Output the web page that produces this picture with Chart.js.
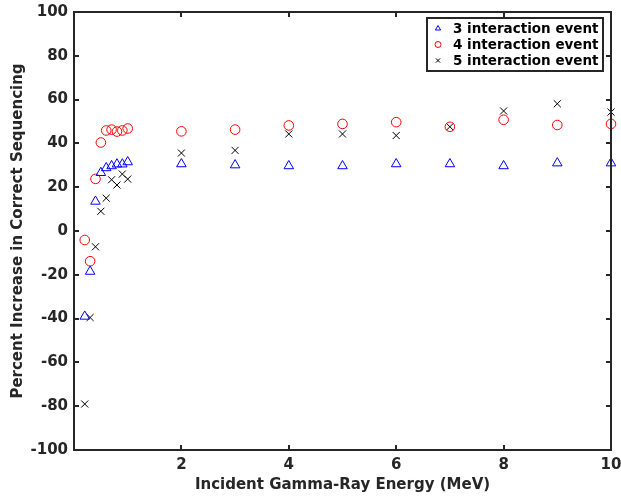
<!DOCTYPE html>
<html>
<head>
<meta charset="utf-8">
<script src="https://cdn.jsdelivr.net/npm/chart.js@4.4.0/dist/chart.umd.min.js"></script>
<style>
html,body{margin:0;padding:0;background:#fff;}
#wrap{width:621px;height:498px;position:relative;}
</style>
</head>
<body>
<div id="wrap"><canvas id="c" width="621" height="498"></canvas></div>
<script>
const energies = [0.2,0.3,0.4,0.5,0.6,0.7,0.8,0.9,1,2,3,4,5,6,7,8,9,10];
const threeEvent = [-39,-18.5,13.5,26.6,28.8,29.7,30.5,30.5,31.5,30.6,30.1,29.7,29.7,30.6,30.6,29.7,31,31];
const fourEvent = [-4.1,-13.8,23.8,40.4,45.9,46.3,45.4,45.9,46.8,45.5,46.3,48.2,48.9,49.7,47.6,50.8,48.4,48.9];
const fiveEvent = [-79,-39.5,-7.2,9,15,23.4,21,26,23.7,35.6,36.8,44.3,44.3,43.6,47.6,54.8,58.1,54.3];
const seriesLabels = ['3 interaction event','4 interaction event','5 interaction event'];
const xTicks = [2,4,6,8,10];
const yTicks = [-100,-80,-60,-40,-20,0,20,40,60,80,100];

const axisColor = '#262626';
const fontFam = '"DejaVu Sans", sans-serif';

function pts(ys){ return energies.map((e,i)=>({x:e,y:ys[i]})); }

const boxPlugin = {
  id:'boxPlugin',
  afterDraw(chart){
    const ctx = chart.ctx, a = chart.chartArea;
    const xs = chart.scales.x, ys = chart.scales.y;
    ctx.save();
    ctx.strokeStyle = axisColor;
    ctx.lineWidth = 2;
    ctx.beginPath();
    ctx.rect(a.left, a.top, a.right-a.left, a.bottom-a.top);
    ctx.stroke();
    const tl = 5;
    ctx.beginPath();
    xTicks.forEach(v=>{
      const p = Math.round(xs.getPixelForValue(v));
      ctx.moveTo(p, a.bottom); ctx.lineTo(p, a.bottom-tl);
      ctx.moveTo(p, a.top); ctx.lineTo(p, a.top+tl);
    });
    yTicks.forEach(v=>{
      const p = Math.round(ys.getPixelForValue(v));
      ctx.moveTo(a.left, p); ctx.lineTo(a.left+tl, p);
      ctx.moveTo(a.right, p); ctx.lineTo(a.right-tl, p);
    });
    ctx.stroke();

    // legend
    const lx = 427, ly = 18, lw = 176, lh = 53;
    ctx.fillStyle = '#fff';
    ctx.fillRect(lx, ly, lw, lh);
    ctx.lineWidth = 2;
    ctx.strokeStyle = axisColor;
    ctx.strokeRect(lx, ly, lw, lh);
    ctx.font = 'bold 13.5px ' + fontFam;
    ctx.textBaseline = 'middle';
    chart.data.datasets.forEach((ds,i)=>{
      const cy = ly + 10.5 + i*16;
      ctx.strokeStyle = ds.borderColor;
      ctx.fillStyle = 'rgba(0,0,0,0)';
      ctx.lineWidth = 1;
      Chart.helpers.drawPoint(ctx, {
        pointStyle: ds.pointStyle, radius: 3, rotation:0,
        borderWidth:1
      }, 438, cy);
      ctx.fillStyle = '#000';
      ctx.fillText(ds.label, 453, cy+1);
    });
    ctx.restore();
  }
};

const baseDs = {showLine:false, backgroundColor:'rgba(0,0,0,0)', borderWidth:1, clip:false};
new Chart(document.getElementById('c'), {
  type:'scatter',
  data:{datasets:[
    Object.assign({}, baseDs, {label:seriesLabels[0], data:pts(threeEvent), pointStyle:'triangle', pointRadius:5.5, borderColor:'#0000ff'}),
    Object.assign({}, baseDs, {label:seriesLabels[1], data:pts(fourEvent), pointStyle:'circle', pointRadius:4.8, borderColor:'#ff0000'}),
    Object.assign({}, baseDs, {label:seriesLabels[2], data:pts(fiveEvent), pointStyle:'crossRot', pointRadius:5, borderColor:'#000000'})
  ]},
  options:{
    responsive:false, animation:false, devicePixelRatio:1,
    layout:{padding:{left:0,top:12,right:10,bottom:0}},
    plugins:{legend:{display:false}, tooltip:{enabled:false}},
    elements:{point:{hoverRadius:0}},
    scales:{
      x:{type:'linear', min:0, max:10,
        afterBuildTicks(s){ s.ticks = xTicks.map(v=>({value:v})); },
        afterFit(s){ s.height = 48; s.paddingLeft = 0; s.paddingRight = 0; },
        grid:{display:false, drawTicks:false}, border:{display:false},
        ticks:{color:axisColor, font:{family:fontFam, size:15, weight:'bold'}, padding:6, maxRotation:0, autoSkip:false},
        title:{display:true, text:'Incident Gamma-Ray Energy (MeV)', color:axisColor, font:{family:fontFam, size:15, weight:'bold'}, padding:{top:0,bottom:4}}
      },
      y:{type:'linear', min:-100, max:100,
        afterBuildTicks(s){ s.ticks = yTicks.map(v=>({value:v})); },
        afterFit(s){ s.width = 74; s.paddingTop = 0; s.paddingBottom = 0; },
        grid:{display:false, drawTicks:false}, border:{display:false},
        ticks:{color:axisColor, font:{family:fontFam, size:15, weight:'bold'}, padding:6, autoSkip:false},
        title:{display:true, text:'Percent Increase in Correct Sequencing', color:axisColor, font:{family:fontFam, size:15, weight:'bold'}, padding:{top:9,bottom:0}}
      }
    }
  },
  plugins:[boxPlugin]
});
</script>
</body>
</html>
